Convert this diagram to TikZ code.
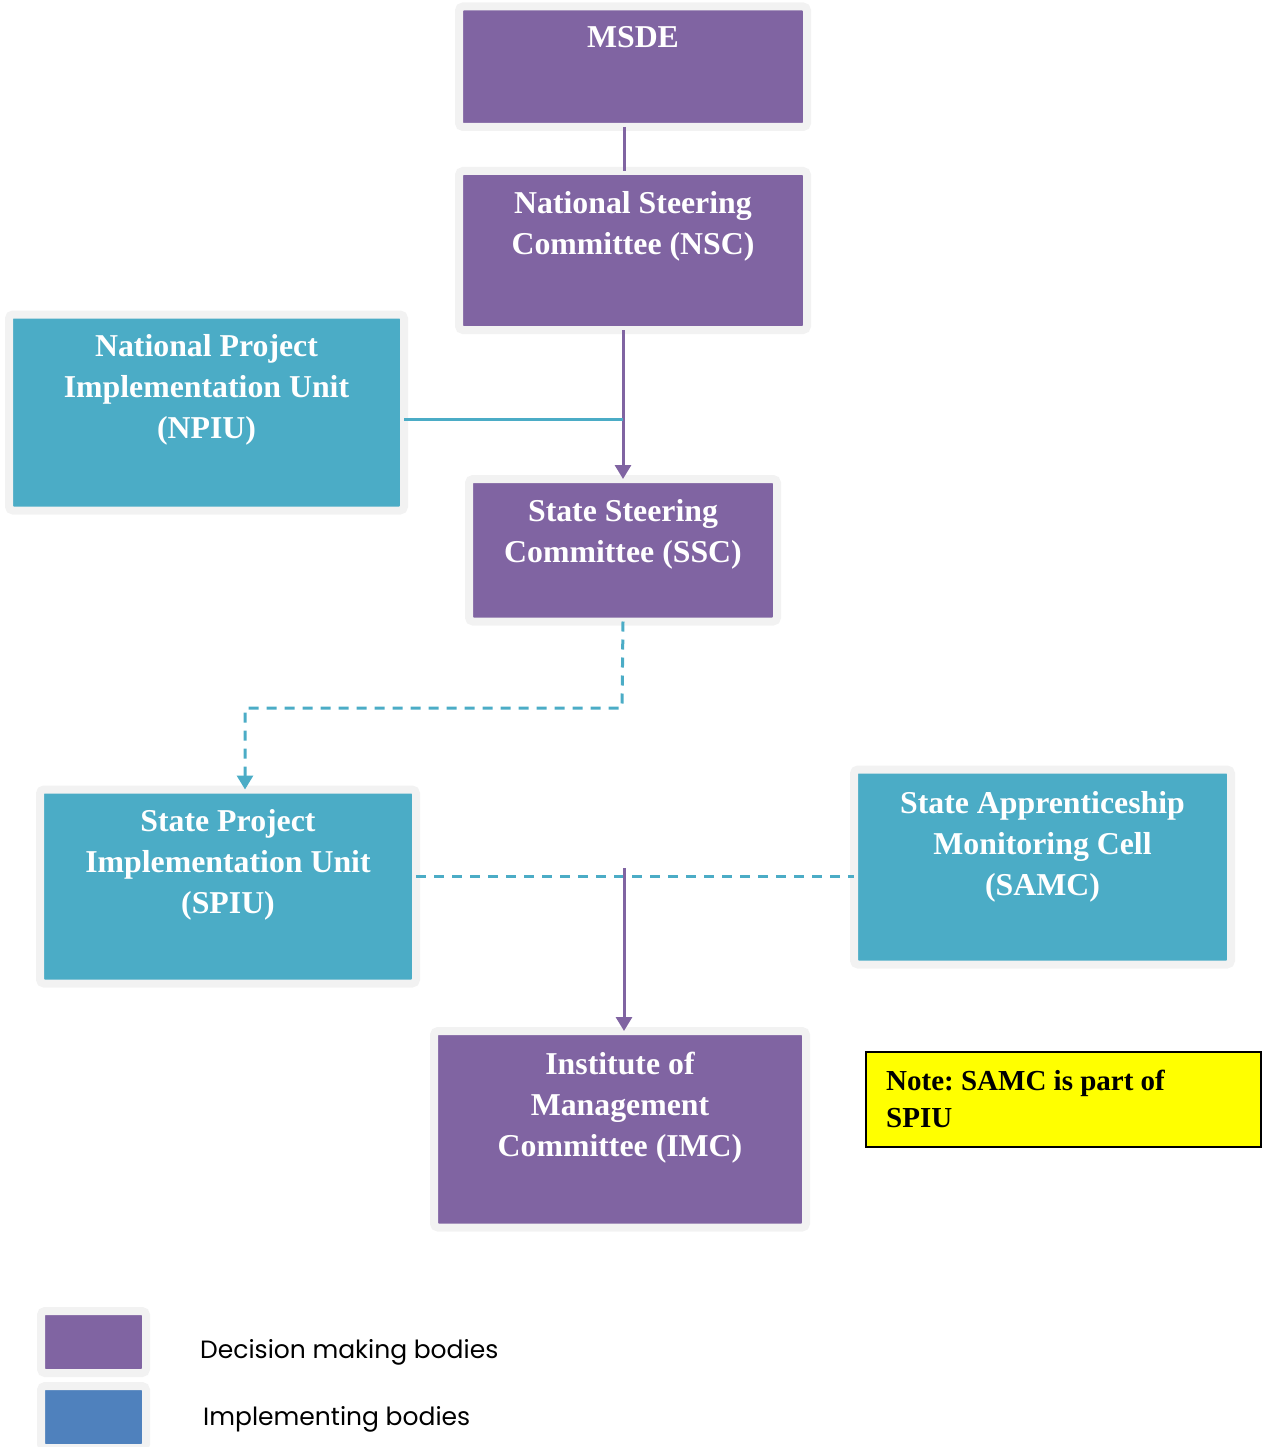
\documentclass[tikz,border=0pt]{standalone}
\usepackage{fontspec}
\setmainfont{Liberation Serif}
\newfontfamily\legfont{Poppins}
\usetikzlibrary{arrows.meta,calc}
\definecolor{dpurple}{HTML}{8064A2}
\definecolor{dteal}{HTML}{4BACC6}
\definecolor{dblue}{HTML}{4F81BD}
\definecolor{framegray}{HTML}{F2F2F2}
\definecolor{noteyellow}{HTML}{FFFF00}
\frenchspacing
\tikzset{
  orgbox/.style={draw=framegray, line width=8pt, rounded corners=4pt, outer sep=0pt, inner sep=0pt, anchor=north west},
  pbox/.style={orgbox, fill=dpurple},
  tbox/.style={orgbox, fill=dteal},
  bbox/.style={orgbox, fill=dblue},
  btext/.style={font=\bfseries\fontsize{31.8}{41}\selectfont, text=white, align=center, anchor=north, inner sep=0pt},
  plink/.style={draw=dpurple, line width=3pt},
  tlink/.style={draw=dteal, line width=3pt},
  tdash/.style={tlink, dash pattern=on 10pt off 8pt},
  tip/.style={-{Triangle[width=16pt,length=14pt]}},
  legtext/.style={font=\legfont\fontsize{25}{28}\selectfont, anchor=base west, inner sep=0pt},
}
\begin{document}
\begin{tikzpicture}[x=1pt,y=-1pt]
\useasboundingbox (0,0) rectangle (1262,1447);
% boxes
\node[pbox, minimum width=348pt, minimum height=120.5pt] (msde) at (459,6.5) {};
\node[pbox, minimum width=348pt, minimum height=159pt] (nsc) at (459,171) {};
\node[tbox, minimum width=395pt, minimum height=196pt] (npiu) at (9,314.5) {};
\node[pbox, minimum width=308pt, minimum height=142.5pt] (ssc) at (469,479) {};
\node[tbox, minimum width=376pt, minimum height=194pt] (spiu) at (40,789.5) {};
\node[tbox, minimum width=377pt, minimum height=195pt] (samc) at (854,769.5) {};
\node[pbox, minimum width=372pt, minimum height=196.5pt] (imc) at (434,1031) {};
\node[draw=black, line width=2pt, fill=noteyellow, anchor=north west, inner sep=0pt, outer sep=0pt, minimum width=395pt, minimum height=95pt] (note) at (866,1052) {};
\node[pbox, minimum width=105pt, minimum height=62pt] (leg1) at (41,1311) {};
\node[bbox, minimum width=105pt, minimum height=62pt] (leg2) at (41,1386) {};
% texts
\node[btext] (msdet) at ($(msde.north)+(0,20)$) {MSDE};
\node[btext] (nsct) at ($(nsc.north)+(0,20)$) {National Steering\\Committee (NSC)};
\node[btext] (npiut) at ($(npiu.north)+(0,20)$) {National Project\\Implementation Unit\\(NPIU)};
\node[btext] (ssct) at ($(ssc.north)+(0,20)$) {State Steering\\Committee (SSC)};
\node[btext] (spiut) at ($(spiu.north)+(0,20)$) {State Project\\Implementation Unit\\(SPIU)};
\node[btext] (samct) at ($(samc.north)+(0,21.5)$) {State Apprenticeship\\Monitoring Cell\\(SAMC)};
\node[btext] (imct) at ($(imc.north)+(0,20.5)$) {Institute of\\Management\\Committee (IMC)};
\node[font=\bfseries\fontsize{29}{37}\selectfont, align=left, anchor=north west, inner sep=0pt] (notet) at (886,1070) {Note: SAMC is part of\\SPIU};
\node[legtext] (leg1t) at (200,1358) {Decision making bodies};
\node[legtext] (leg2t) at (203,1425) {Implementing bodies};
% connectors
\draw[plink] ([xshift=-9pt]msde.south) -- ([xshift=-9pt]nsc.north);
\draw[plink, tip] (nsc.south -| ssc.north) -- (ssc.north);
\draw[tlink] ([yshift=-6.5pt]npiu.east) -- ([yshift=-6.5pt]npiu.east -| ssc.north);
\coordinate (bend) at (622,708);
\draw[tdash, tip] (ssc.south) -- (bend) -| ([xshift=17pt]spiu.north);
\draw[tdash] ([yshift=10.5pt]spiu.east) -- ([yshift=10.5pt]spiu.east -| samc.west);
\coordinate (j) at (624,868);
\draw[plink, tip] (j) -- (j |- imc.north);
\end{tikzpicture}
\end{document}
